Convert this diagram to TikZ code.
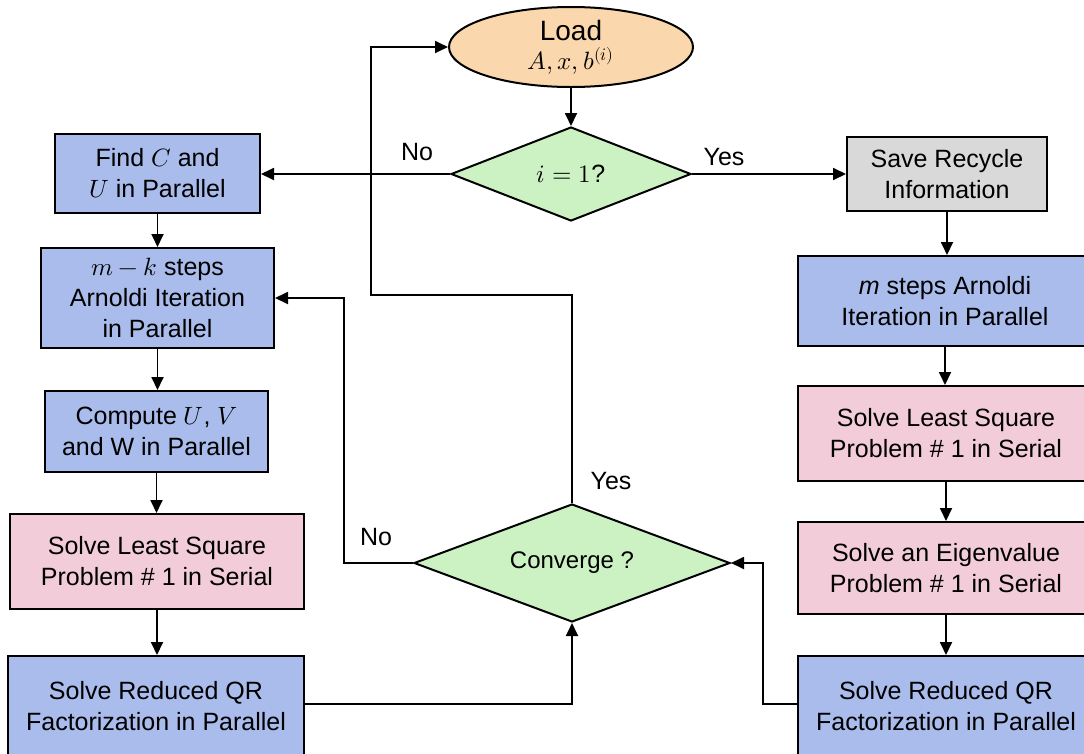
\documentclass[tikz,border=0pt]{standalone}
\usepackage{fontspec}
\usepackage{unicode-math}
\setmainfont{Liberation Sans}
\setmathfont{latinmodern-math.otf}
\usetikzlibrary{shapes.geometric,arrows.meta,calc}
\definecolor{bfill}{HTML}{A9BCEB}
\definecolor{pfill}{HTML}{F2CCD9}
\definecolor{gfill}{HTML}{D9D9D9}
\definecolor{ofill}{HTML}{FAD7AC}
\definecolor{dfill}{HTML}{CCF2C4}
\begin{document}
\begin{tikzpicture}[x=1pt,y=-1pt,
  every node/.style={font=\fontsize{25}{31}\selectfont},
  box/.style={draw=black,line width=2pt,rectangle,inner sep=0pt,align=center},
  bluebox/.style={box,fill=bfill},
  pinkbox/.style={box,fill=pfill},
  graybox/.style={box,fill=gfill},
  dec/.style={draw=black,line width=2pt,diamond,inner sep=0pt,aspect=2.5,fill=dfill,align=center},
  conn/.style={draw=black,line width=1.8pt,-{Triangle[length=13pt,width=12pt]}},
  lbl/.style={inner sep=0pt}
]
\clip (0,0) rectangle (1084,753);
\path[use as bounding box] (0,0) rectangle (1084,753);

% top
\node[draw=black,line width=2pt,ellipse,fill=ofill,inner sep=0pt,minimum width=244pt,minimum height=80pt,align=center]
  (load) at (571,47) {\fontsize{28}{33}\selectfont Load\\[-2pt]$A,x,b^{(i)}$};
\node[dec,minimum width=240pt,minimum height=94pt] (q1) at (571,174) {$i=1$?};

% left column
\node[bluebox,minimum width=205pt,minimum height=79pt] (find) at (157.5,173.5) {Find $C$ and\\$U$ in Parallel};
\node[bluebox,minimum width=233pt,minimum height=100pt] (mk) at (157.5,298) {$m-k$ steps\\Arnoldi Iteration\\in Parallel};
\node[bluebox,minimum width=223pt,minimum height=81pt] (comp) at (156.5,431.5) {Compute $U$, $V$\\and W in Parallel};
\node[pinkbox,minimum width=294pt,minimum height=95pt] (lsL) at (157,561.5) {Solve Least Square\\Problem \# 1 in Serial};
\node[bluebox,minimum width=296pt,minimum height=100pt] (qrL) at (156,706) {Solve Reduced QR\\Factorization in Parallel};

% right column
\node[graybox,minimum width=200pt,minimum height=74pt] (save) at (947,174) {Save Recycle\\Information};
\node[bluebox,minimum width=294pt,minimum height=90pt] (ms) at (945,301) {\textit{m} steps Arnoldi\\Iteration in Parallel};
\node[pinkbox,minimum width=296pt,minimum height=95pt] (lsR) at (946,433.5) {Solve Least Square\\Problem \# 1 in Serial};
\node[pinkbox,minimum width=296pt,minimum height=92pt] (eig) at (946,568) {Solve an Eigenvalue\\Problem \# 1 in Serial};
\node[bluebox,minimum width=296pt,minimum height=100pt] (qrR) at (946,706) {Solve Reduced QR\\Factorization in Parallel};

% converge
\node[dec,minimum width=316pt,minimum height=118pt,font=\fontsize{24}{29}\selectfont] (conv) at (572,563) {Converge ?};

% helper coordinates
\coordinate (c1) at (371,295);
\coordinate (jL) at (344,0);
\coordinate (jR) at (763,0);

% connectors
\draw[conn] (load.south) -- (q1.north);
\draw[conn] (q1.west) -- (q1.west -| find.east);
\draw[conn] (q1.east) -- (q1.east -| save.west);
\draw[conn] (find.south) -- (find.south |- mk.north);
\draw[conn] (mk.south) -- (mk.south |- comp.north);
\draw[conn] (comp.south) -- (comp.south |- lsL.north);
\draw[conn] (lsL.south) -- (lsL.south |- qrL.north);
\draw[conn] (save.south) -- (save.south |- ms.north);
\draw[conn] (ms.south) -- (ms.south |- lsR.north);
\draw[conn] (lsR.south) -- (lsR.south |- eig.north);
\draw[conn] (eig.south) -- (eig.south |- qrR.north);
\draw[conn] (qrL.east |- 0,704) -| (conv.south);
\draw[conn] (qrR.west |- 0,704) -- (jR |- 0,704) |- (conv.east);
\draw[conn] (conv.west) -- (conv.west -| jL) |- (mk.east);
\draw[conn] (conv.north) |- (c1) |- (load.west);

% labels
\node[lbl] (no1) at (417,152) {No};
\node[lbl] (yes1) at (724,157) {Yes};
\node[lbl] (yes2) at (611,481) {Yes};
\node[lbl] (no2) at (376,537) {No};
\end{tikzpicture}
\end{document}
